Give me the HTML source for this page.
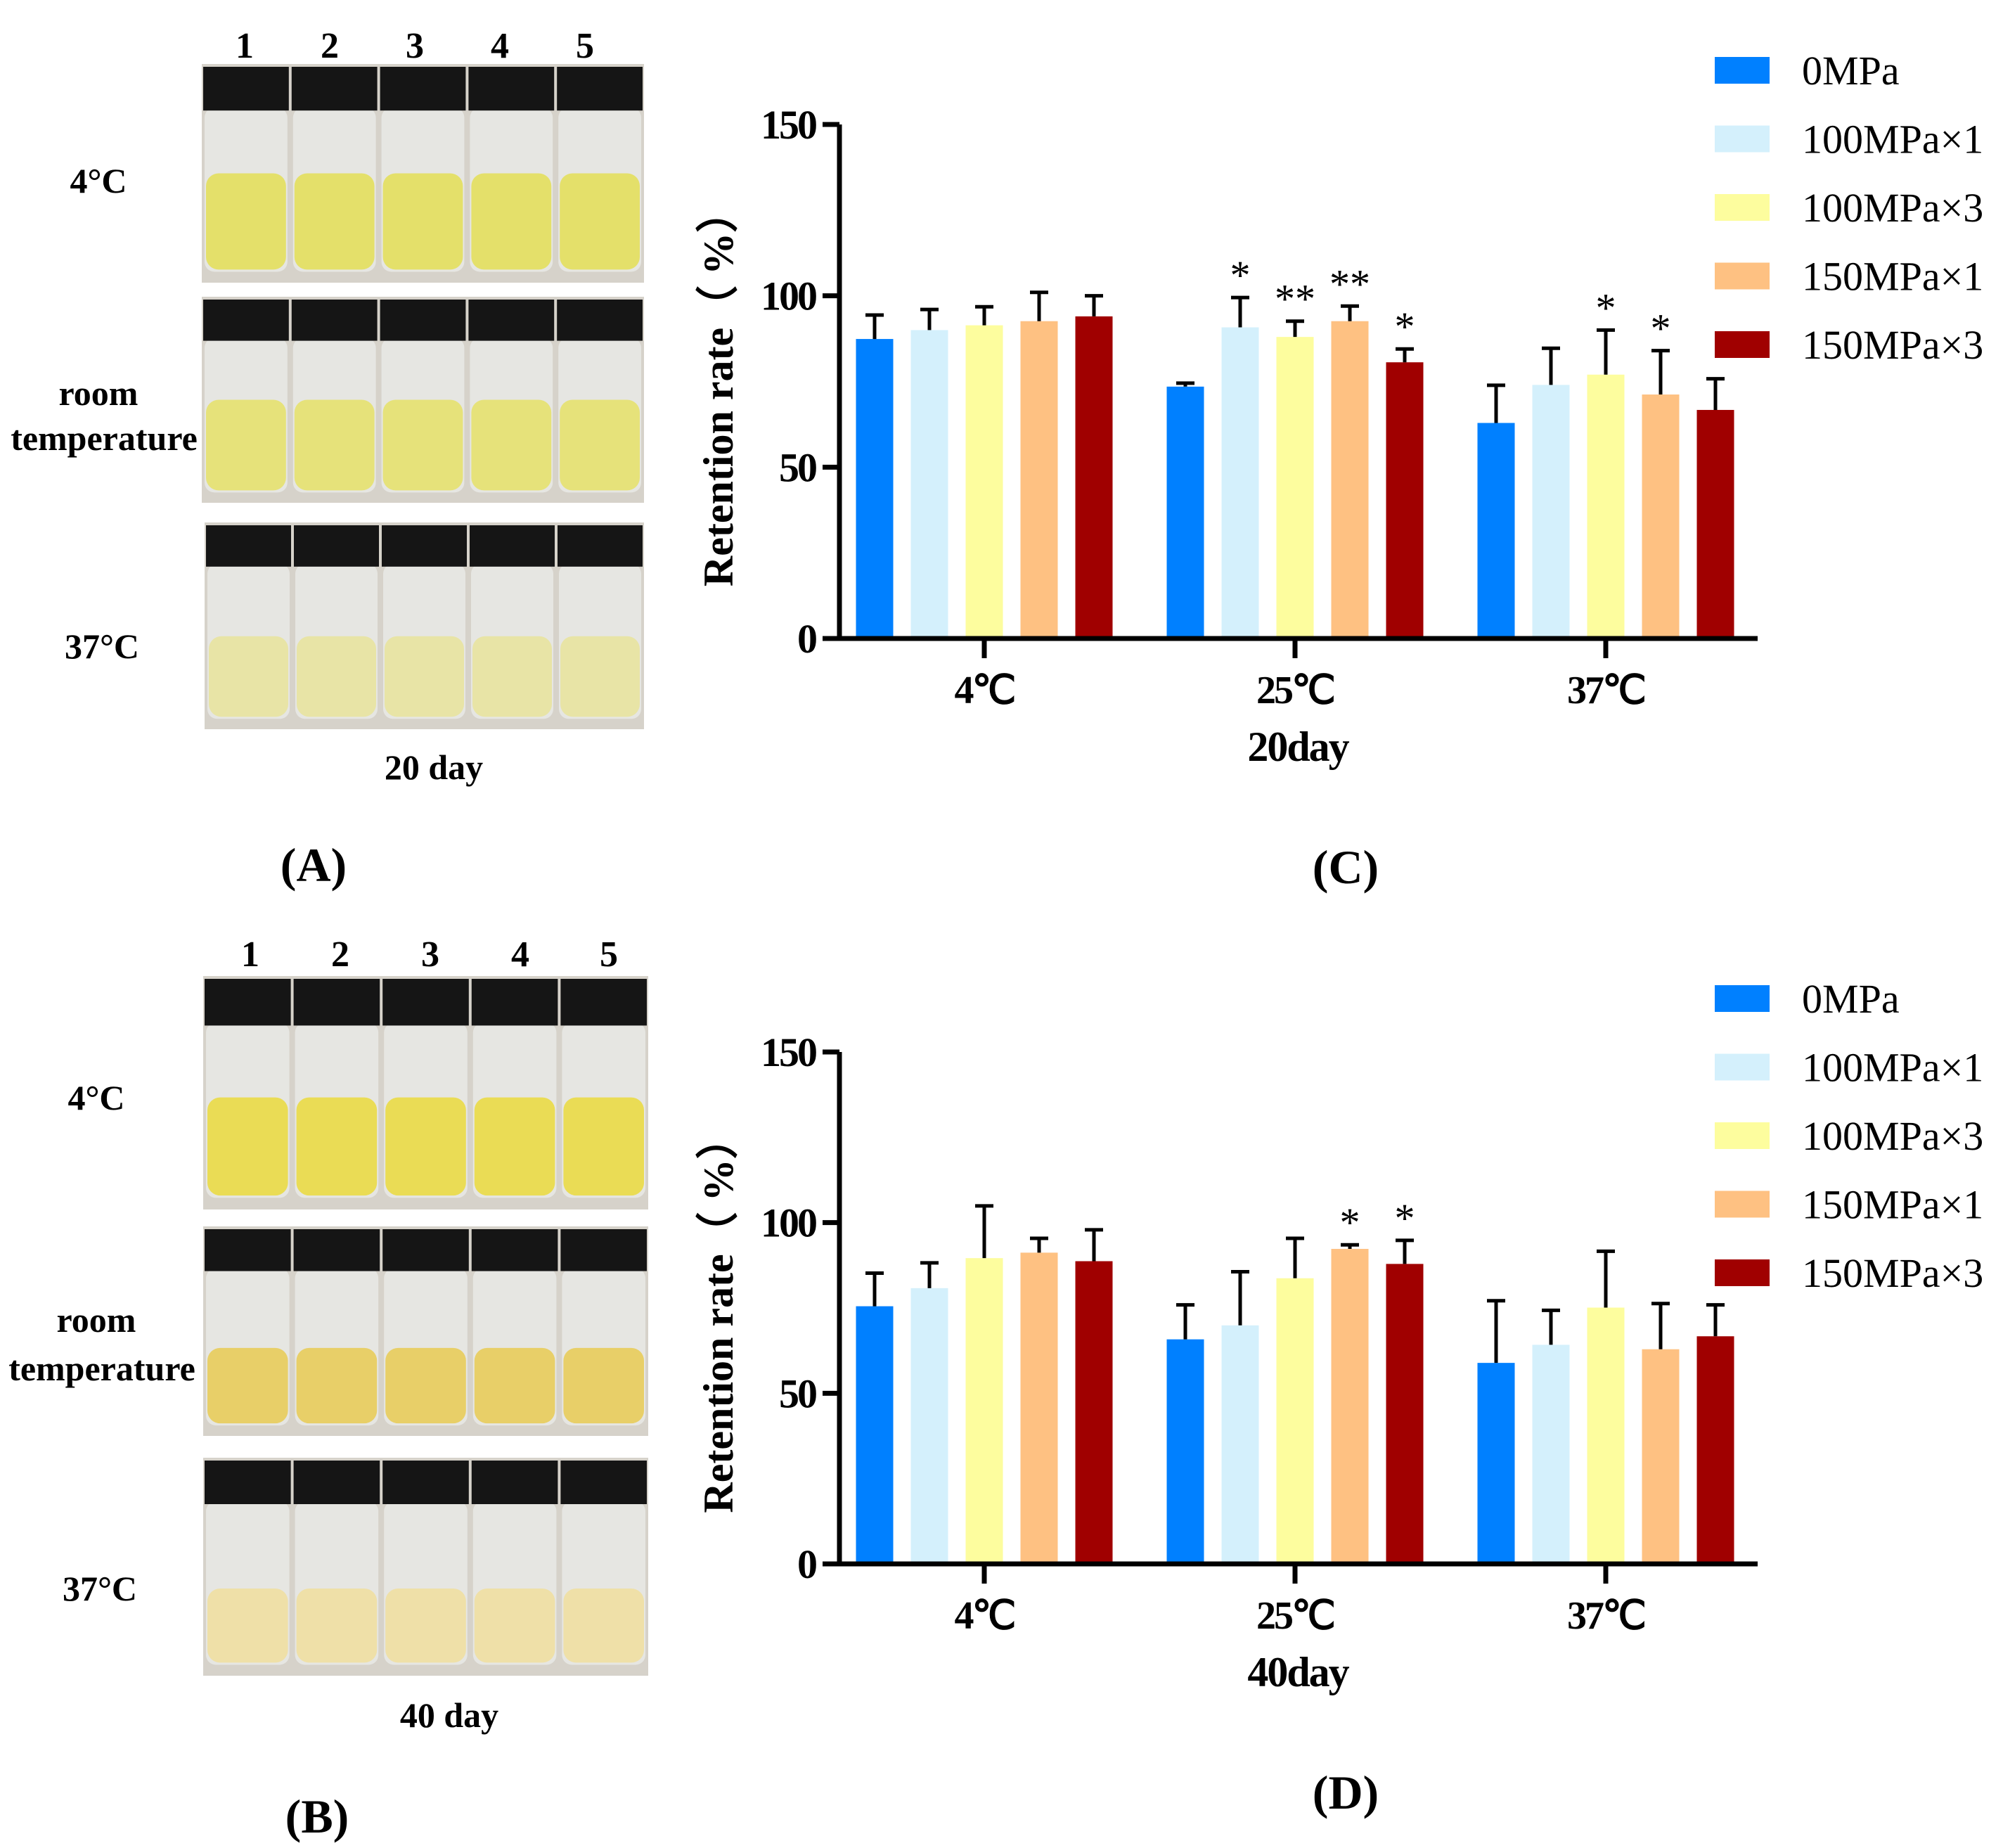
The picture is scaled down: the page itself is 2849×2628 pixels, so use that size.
<!DOCTYPE html>
<html><head><meta charset="utf-8"><style>
html,body{margin:0;padding:0;background:#fff;}
svg{display:block;}
text{font-family:"Liberation Serif",serif;}
</style></head><body>
<svg id="fig" xmlns="http://www.w3.org/2000/svg" width="2849" height="2628" viewBox="0 0 2849 2628">
<rect width="2849" height="2628" fill="#fff"/>
<g id="photos"></g>
<g id="chartC"></g>
<g id="chartD"></g>
</svg>
<script>
const categories = ["4℃", "25℃", "37℃"];
const seriesNames = ["0MPa", "100MPa×1", "100MPa×3", "150MPa×1", "150MPa×3"];
const seriesColors = ["#0080ff", "#d4f0fc", "#fdfd9e", "#fec182", "#a00000"];
const yTicks = [0, 50, 100, 150];
// 20 day values, per series [4C,25C,37C]
const day20_0MPa = [87.4, 73.5, 62.9];
const day20_100x1 = [90, 90.8, 74];
const day20_100x3 = [91.4, 88, 77];
const day20_150x1 = [92.6, 92.6, 71.2];
const day20_150x3 = [94, 80.6, 66.7];
const day20_err_0MPa = [7, 1, 11];
const day20_err_100x1 = [6, 8.7, 10.7];
const day20_err_100x3 = [5.4, 4.6, 13];
const day20_err_150x1 = [8.4, 4.4, 12.8];
const day20_err_150x3 = [6, 3.9, 9.1];
const day20_stars = [["", "", "", "", ""], ["", "*", "**", "**", "*"], ["", "", "*", "*", ""]];
// 40 day values
const day40_0MPa = [75.5, 65.8, 58.9];
const day40_100x1 = [80.8, 69.9, 64.2];
const day40_100x3 = [89.6, 83.7, 75.1];
const day40_150x1 = [91.2, 92.3, 62.9];
const day40_150x3 = [88.7, 87.9, 66.7];
const day40_err_0MPa = [9.7, 10.1, 18.2];
const day40_err_100x1 = [7.4, 15.7, 10.1];
const day40_err_100x3 = [15.3, 11.7, 16.5];
const day40_err_150x1 = [4.2, 1.2, 13.4];
const day40_err_150x3 = [9.2, 6.9, 9.2];
const day40_stars = [["", "", "", "", ""], ["", "", "", "*", "*"], ["", "", "", "", ""]];

const NS = "http://www.w3.org/2000/svg";
function mk(parent, tag, attrs, txt) {
  const e = document.createElementNS(NS, tag);
  for (const k in attrs) e.setAttribute(k, attrs[k]);
  if (txt !== undefined) e.textContent = txt;
  parent.appendChild(e);
  return e;
}

function drawChart(g, y0, y150, vals, errs, stars, dayLabel, panel, legTop) {
  const axX = 1194, xEnd = 2500, bw = 53, step = 78;
  const tickX = [1400, 1842, 2284];
  const yS = v => y0 - v * (y0 - y150) / 150;
  const xS = (ci, si) => tickX[ci] + (si - 2) * step - bw / 2;
  for (let s = 0; s < 5; s++) {
    for (let c = 0; c < 3; c++) {
      const v = vals[s][c], e = errs[s][c];
      const cx = xS(c, s) + bw / 2;
      const bar = mk(g, "rect", {x: xS(c, s), y: yS(v), width: bw, height: y0 - yS(v), fill: seriesColors[s]});
      
      
      const eb = mk(g, "path", {d: `M${cx},${yS(v)}V${yS(v + e)}M${cx - 13},${yS(v + e)}H${cx + 13}`, stroke: "#000", "stroke-width": 5, fill: "none"});
      
      
      const st = stars[c][s];
      if (st) {
        const t = mk(g, "text", {x: cx, y: yS(v + e) - 12, "text-anchor": "middle", "font-size": 58, "font-family": "Liberation Sans, sans-serif"}, st);
        
        
      }
    }
  }
  const ax = mk(g, "path", {d: `M${axX},${y150}V${y0}M1170,${y0}H${xEnd}`, stroke: "#000", "stroke-width": 7, fill: "none"});
  
  
  yTicks.forEach(t => {
    const y = yS(t);
    mk(g, "line", {x1: axX - 24, x2: axX, y1: y, y2: y, stroke: "#000", "stroke-width": 7});
    const tl = mk(g, "text", {x: axX - 34, y: y + 20, "text-anchor": "end", "font-size": 58, "font-weight": "bold", "letter-spacing": "-3"}, t);
    
    
  });
  categories.forEach((c, i) => {
    mk(g, "line", {x1: tickX[i], x2: tickX[i], y1: y0, y2: y0 + 28, stroke: "#000", "stroke-width": 7});
    const cl = mk(g, "text", {x: tickX[i], y: y0 + 92, "text-anchor": "middle", "font-size": 56, "font-weight": "bold", "letter-spacing": "-3", "font-family": "Liberation Serif, Noto Serif CJK SC, serif"}, c);
    
    
  });
  const yt = mk(g, "text", {x: 0, y: 0, transform: `translate(1042,${(y0 + y150) / 2 + 10}) rotate(-90)`, "text-anchor": "middle", "font-size": 60, "font-weight": "bold", "font-family": "Liberation Serif, Noto Serif CJK SC, serif"}, "Retention rate（ %）");
  
  
  const xt = mk(g, "text", {x: 1846, y: y0 + 174, "text-anchor": "middle", "font-size": 60, "font-weight": "bold", "letter-spacing": "-2"}, dayLabel);
  
  
  const pl = mk(g, "text", {x: 1914, y: y0 + 348, "text-anchor": "middle", "font-size": 68, "font-weight": "bold"}, panel);
  
  
  seriesNames.forEach((n, i) => {
    const cy = legTop + i * 97.5;
    const sw = mk(g, "rect", {x: 2439, y: cy - 19, width: 78, height: 38, fill: seriesColors[i]});
    
    
    const lt = mk(g, "text", {x: 2563, y: cy + 20, "font-size": 58}, n);
    
    
  });
}

drawChart(document.getElementById("chartC"), 908, 177,
  [day20_0MPa, day20_100x1, day20_100x3, day20_150x1, day20_150x3],
  [day20_err_0MPa, day20_err_100x1, day20_err_100x3, day20_err_150x1, day20_err_150x3],
  day20_stars, "20day", "(C)", 100);
drawChart(document.getElementById("chartD") , 2224, 1496,
  [day40_0MPa, day40_100x1, day40_100x3, day40_150x1, day40_150x3],
  [day40_err_0MPa, day40_err_100x1, day40_err_100x3, day40_err_150x1, day40_err_150x3],
  day40_stars, "40day", "(D)", 1420);

// photo panels
const P = document.getElementById("photos");
function photoRow(x1, x2, y1, y2, liquid, liqFrac) {
  const g = mk(P, "g", {});
  
  
  mk(g, "rect", {x: x1, y: y1, width: x2 - x1, height: y2 - y1, fill: "#d6d2ca"});
  const w = (x2 - x1) / 5, h = y2 - y1;
  for (let i = 0; i < 5; i++) {
    const vx = x1 + i * w;
    mk(g, "rect", {x: vx + 4, y: y1 + h * 0.2, width: w - 8, height: h * 0.75, rx: 14, fill: "#e6e6e2"});
    mk(g, "rect", {x: vx + 6, y: y1 + h * (1 - liqFrac), width: w - 12, height: h * (liqFrac - 0.06), rx: 18, fill: liquid});
    mk(g, "rect", {x: vx + 2, y: y1 + 4, width: w - 4, height: h * 0.2, fill: "#151515"});
  }
}
function label(x, y, t, size, anchor, bold) {
  const e = mk(P, "text", {x: x, y: y, "text-anchor": anchor || "middle", "font-size": size, "font-weight": bold ? "bold" : "normal"}, t);
  
  
}
photoRow(287, 916, 91, 402, "#e4e06a", 0.5);
photoRow(287, 916, 422, 715, "#e6e27a", 0.5);
photoRow(291, 916, 743, 1037, "#e8e4a6", 0.45);
photoRow(289, 922, 1388, 1720, "#eadc55", 0.48);
photoRow(289, 922, 1744, 2042, "#e8cf68", 0.42);
photoRow(289, 922, 2073, 2383, "#efe0a8", 0.4);
[348, 469, 590, 711, 832].forEach((x, i) => label(x, 82, String(i + 1), 52, "middle", true));
[356, 484, 612, 740, 866].forEach((x, i) => label(x, 1374, String(i + 1), 52, "middle", true));
label(140, 274, "4°C", 50, "middle", true);
label(140, 576, "room", 50, "middle", true);
label(148, 640, "temperature", 50, "middle", true);
label(145, 936, "37°C", 50, "middle", true);
label(617, 1108, "20  day", 50, "middle", true);
label(446, 1253, "(A)", 68, "middle", true);
label(137, 1578, "4°C", 50, "middle", true);
label(137, 1894, "room", 50, "middle", true);
label(145, 1963, "temperature", 50, "middle", true);
label(142, 2276, "37°C", 50, "middle", true);
label(639, 2456, "40  day", 50, "middle", true);
label(451, 2606, "(B)", 68, "middle", true);
</script>
</body></html>
